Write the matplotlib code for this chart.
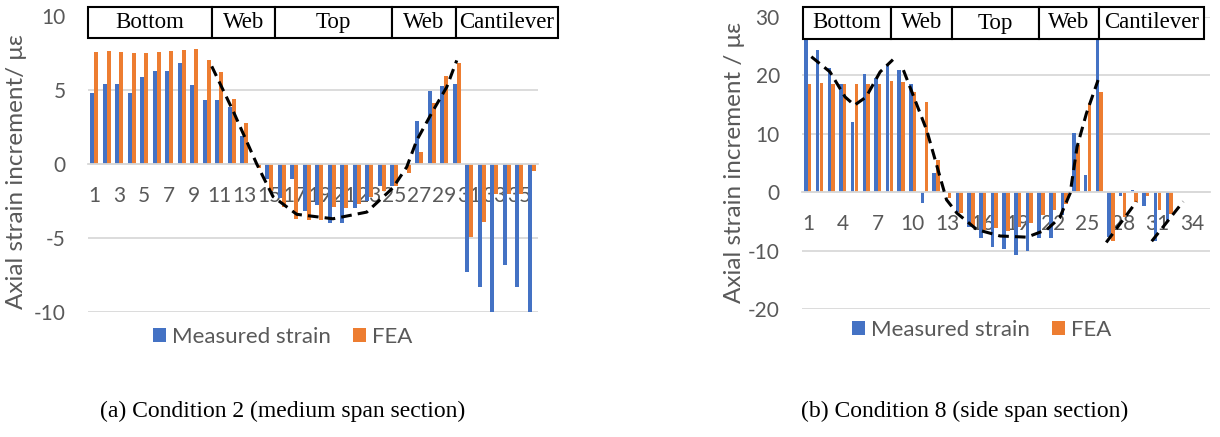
import matplotlib
matplotlib.use('Agg')
import matplotlib.pyplot as plt
from matplotlib.patches import Rectangle
import numpy as np

plt.rcParams['axes.unicode_minus'] = False

# Condition 2 (medium span section), gauges 1-36
cond2_measured = [4.8, 5.4, 5.4, 4.8, 5.85, 6.3, 6.3, 6.8, 5.35, 4.35,
                  4.35, 3.85, 1.9, 0.1, -1.0, -2.3, -1.0, -3.2, -2.8, -4.0,
                  -4.0, -3.0, -2.5, -1.5, -1.5, 0.0, 2.9, 4.9, 5.3, 5.4,
                  -7.3, -8.3, -10.0, -6.8, -8.3, -10.0]
cond2_fea = [7.55, 7.65, 7.55, 7.5, 7.5, 7.55, 7.65, 7.7, 7.75, 7.0,
             6.25, 4.4, 2.75, -0.3, -1.8, -2.9, -3.7, -3.8, -3.8, -2.9,
             -3.0, -2.7, -2.2, -1.8, -1.5, -0.6, 0.8, 4.1, 5.95, 6.8,
             -4.9, -3.9, -2.0, -2.0, -2.0, -0.5]
# hand drawn trend through condition 2 (gauge no., strain)
cond2_trend_x = [10.4, 12.1, 14.0, 15.3, 17.2, 20.1, 22.8, 24.4, 24.9, 26.0, 26.8, 28.1, 29.2, 30.0]
cond2_trend_y = [6.6, 3.6, 0.0, -2.2, -3.4, -3.7, -3.25, -2.0, -1.6, -0.2, 1.6, 3.6, 5.2, 7.0]

# Condition 8 (side span section), gauges 1-35
cond8_measured = [27.0, 24.3, 21.3, 18.5, 12.1, 20.3, 19.5, 21.9, 20.9, 18.5,
                  -1.9, 3.35, 0.0, -3.4, -6.0, -7.9, -9.3, -9.7, -10.7, -10.1,
                  -7.9, -7.9, -3.9, 10.2, 3.0, 27.0, -7.6, -0.7, 0.4, -2.3,
                  -8.4, -5.0, 0.0, 0.0, 0.0]
cond8_fea = [18.6, 18.7, 18.5, 18.5, 18.5, 18.5, 18.6, 19.0, 18.9, 17.2,
             15.5, 5.5, -1.0, -3.6, -5.9, -6.4, -6.2, -6.7, -5.9, -5.3,
             -3.9, -3.0, -2.0, 8.1, 15.2, 17.2, -8.4, -4.2, -1.6, -0.7,
             -3.0, -3.8, 0.0, 0.0, 0.0]
cond8_trend = [
    ([1.3, 2.9, 4.2, 5.0, 6.0, 7.2, 8.3], [23.2, 20.6, 16.3, 14.9, 16.3, 20.6, 22.7]),
    ([9.2, 11.2, 12.9, 13.8, 15.5, 17.5, 19.8, 21.5, 22.6, 23.5, 24.1, 24.9, 25.9],
     [20.9, 10.6, -1.3, -3.6, -6.4, -7.5, -7.7, -6.4, -4.4, -0.2, 7.8, 13.5, 19.2]),
    ([26.6, 29.2], [-8.6, -1.6]),
    ([30.5, 33.2], [-8.4, -1.6]),
]

sections = ['Bottom', 'Web', 'Top', 'Web', 'Cantilever']

BLUE = '#4472C4'
ORANGE = '#ED7D31'
GREY = '#595959'
GRID = '#D9D9D9'
SANS = 'Lato'
SERIF = 'Liberation Serif'

W, H = 1220, 437
fig = plt.figure(figsize=(W / 100, H / 100), dpi=100)


def px_box(x0, y0, x1, y1):
    # pixel box (from top-left) -> figure fraction rect
    return [x0 / W, 1 - y1 / H, (x1 - x0) / W, (y1 - y0) / H]


def strain_panel(rect, measured, fea, ylim, ystep, xticks):
    ax = fig.add_axes(rect)
    n = len(measured)
    x = np.arange(1, n + 1)
    ax.bar(x - 0.16, measured, width=0.3, color=BLUE, label='Measured strain', zorder=2)
    ax.bar(x + 0.16, fea, width=0.3, color=ORANGE, label='FEA', zorder=2)
    ax.set_xlim(0.5, n + 0.5)
    ax.set_ylim(*ylim)
    ax.set_yticks(np.arange(ylim[0], ylim[1] + 1, ystep))
    ax.yaxis.grid(True, color=GRID, lw=1.3, zorder=0)
    ax.set_axisbelow(True)
    for s in ['left', 'right', 'top']:
        ax.spines[s].set_visible(False)
    ax.spines['bottom'].set_position(('data', 0))
    ax.spines['bottom'].set_color(GRID)
    ax.spines['bottom'].set_linewidth(1.3)
    ax.set_xticks(xticks)
    ax.set_xticklabels([str(t) for t in xticks])
    ax.tick_params(axis='x', length=0, pad=16, labelsize=15, labelcolor=GREY)
    ax.tick_params(axis='y', length=0, pad=16, labelsize=15, labelcolor=GREY)
    for lab in ax.get_xticklabels() + ax.get_yticklabels():
        lab.set_family(SANS)
    return ax


def header(edges, y0, y1):
    for i, name in enumerate(sections):
        xa, xb = edges[i], edges[i + 1]
        fig.add_artist(Rectangle((xa / W, 1 - y1 / H), (xb - xa) / W, (y1 - y0) / H,
                                 transform=fig.transFigure, facecolor='white',
                                 edgecolor='black', lw=1.5, zorder=5))
        fig.text((xa + xb) / 2 / W, 1 - (y0 + y1) / 2 / H, name, ha='center',
                 va='center', family=SERIF, fontsize=16.5, zorder=6)


def add_legend(ax, cx, cy):
    ax.legend(loc='center', bbox_to_anchor=(cx / W, 1 - cy / H), bbox_transform=fig.transFigure,
              ncol=2, frameon=False, handlelength=0.55, handleheight=0.55, handletextpad=0.3,
              columnspacing=1.0, prop={'family': SANS, 'size': 16}, labelcolor=GREY)


# (a) medium span
ax1 = strain_panel(px_box(88, 16, 538, 312), cond2_measured, cond2_fea,
                   (-10, 10), 5, list(range(1, 36, 2)))
ax1.plot(cond2_trend_x, cond2_trend_y, color='black', lw=2.2, ls=(0, (3.5, 2)), zorder=4)
add_legend(ax1, 283, 337)
header([88, 212, 275, 392, 456, 558], 7, 38)
fig.text(17 / W, 1 - 172 / H, 'Axial strain increment/ με', rotation=90, ha='center',
         va='center', family=SANS, fontsize=17.5, color=GREY)
fig.text(283 / W, 1 - 411 / H, '(a) Condition 2 (medium span section)', ha='center',
         va='center', family=SERIF, fontsize=17)

# (b) side span
ax2 = strain_panel(px_box(802, 17, 1210, 309), cond8_measured, cond8_fea,
                   (-20, 30), 10, list(range(1, 35, 3)))
for tx, ty in cond8_trend:
    ax2.plot(tx, ty, color='black', lw=2.2, ls=(0, (3.5, 2)), zorder=4)
add_legend(ax2, 982, 330)
header([803, 891, 952, 1039, 1099, 1204], 7, 39)
fig.text(735 / W, 1 - 162 / H, 'Axial strain increment / με', rotation=90, ha='center',
         va='center', family=SANS, fontsize=17.5, color=GREY)
fig.text(965 / W, 1 - 411 / H, '(b) Condition 8 (side span section)', ha='center',
         va='center', family=SERIF, fontsize=17)

fig.savefig('out.png', dpi=100)
